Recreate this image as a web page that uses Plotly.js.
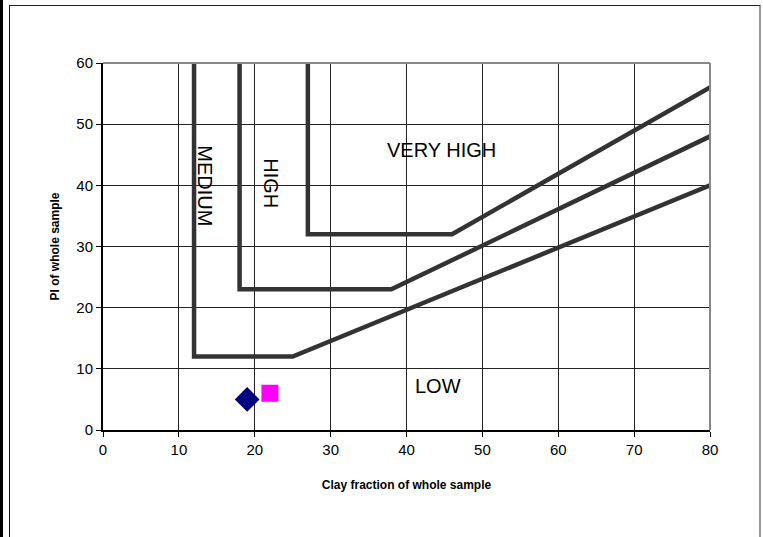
<!DOCTYPE html>
<html>
<head>
<meta charset="utf-8">
<script src="https://cdn.plot.ly/plotly-3.0.1.min.js"></script>
<style>
  html, body { margin: 0; padding: 0; background: #fff; }
  #wrap { position: relative; width: 763px; height: 537px; overflow: hidden; }
  #chart { position: absolute; left: 0; top: 0; width: 763px; height: 537px; }
  #frame { position: absolute; left: 9px; top: 5px; width: 749px; height: 545px;
           border-top: 1px solid #222; border-left: 1px solid #111; border-right: 2px solid #999;
           pointer-events: none; }
  #edge { position: absolute; left: 0; top: 0; width: 3px; height: 537px; background: #000; }
</style>
</head>
<body>
<div id="wrap">
  <div id="chart"></div>
  <div id="frame"></div>
  <div id="edge"></div>
</div>
<script>
// Swelling potential boundaries: clay fraction vs plasticity index
const mediumX = [12, 12, 25, 80];
const mediumY = [60, 12, 12, 40];
const highX = [18, 18, 38, 80];
const highY = [60, 23, 23, 48];
const veryHighX = [27, 27, 46, 80];
const veryHighY = [60, 32, 32, 56];

// Samples
const sampleAX = [19];
const sampleAY = [5];
const sampleBX = [22];
const sampleBY = [6];

// Zone labels
const zoneNames = ["MEDIUM", "HIGH", "VERY HIGH", "LOW"];
const zoneX = [13.4, 22.1, 44.6, 44.2];
const zoneY = [39.9, 40.4, 45.7, 7.2];
const zoneAngle = [90, 90, 0, 0];

const xTicks = [0, 10, 20, 30, 40, 50, 60, 70, 80];
const yTicks = [0, 10, 20, 30, 40, 50, 60];

const boundaryLine = { color: "#333333", width: 4.5 };

const traces = [
  { x: mediumX, y: mediumY, mode: "lines", line: boundaryLine, hoverinfo: "skip" },
  { x: highX, y: highY, mode: "lines", line: boundaryLine, hoverinfo: "skip" },
  { x: veryHighX, y: veryHighY, mode: "lines", line: boundaryLine, hoverinfo: "skip" },
  { x: sampleAX, y: sampleAY, mode: "markers",
    marker: { symbol: "diamond", size: 19, color: "#000080" } },
  { x: sampleBX, y: sampleBY, mode: "markers",
    marker: { symbol: "square", size: 15, color: "#ff00ff",
              line: { color: "#ff00ff", width: 2 } } }
];

const annotations = zoneNames.map((t, i) => ({
  x: zoneX[i], y: zoneY[i], xref: "x", yref: "y", text: t, showarrow: false,
  textangle: zoneAngle[i], font: { family: "Liberation Sans, Arial, sans-serif", size: 20, color: "#000" }
}));

const tickFont = { family: "Liberation Sans, Arial, sans-serif", size: 15, color: "#000" };
const titleFont = { family: "Liberation Sans, Arial, sans-serif", size: 12, color: "#000", weight: "bold" };

const layout = {
  width: 763, height: 537,
  margin: { l: 103, r: 53, t: 63, b: 107 },
  paper_bgcolor: "#fff", plot_bgcolor: "#fff",
  showlegend: false,
  xaxis: {
    range: [0, 80], tickvals: xTicks, ticktext: xTicks.map(String),
    showgrid: true, gridcolor: "#222", gridwidth: 1,
    showline: true, linecolor: "#000", linewidth: 2,
    ticks: "outside", ticklen: 5, tickcolor: "#000",
    zeroline: false, tickfont: tickFont, fixedrange: true,
    title: { text: "Clay fraction of whole sample", font: titleFont, standoff: 24 }
  },
  yaxis: {
    range: [0, 60], tickvals: yTicks, ticktext: yTicks.map(String),
    showgrid: true, gridcolor: "#222", gridwidth: 1,
    showline: true, linecolor: "#000", linewidth: 2,
    ticks: "outside", ticklen: 5, tickcolor: "#000",
    zeroline: false, tickfont: tickFont, fixedrange: true,
    title: { text: "PI of whole sample", font: titleFont, standoff: 14 }
  },
  shapes: [
    { type: "line", xref: "paper", yref: "paper", x0: 0, x1: 1, y0: 1, y1: 1,
      line: { color: "#888", width: 2 } },
    { type: "line", xref: "paper", yref: "paper", x0: 1, x1: 1, y0: 0, y1: 1,
      line: { color: "#888", width: 2 } }
  ],
  annotations: annotations
};

Plotly.newPlot("chart", traces, layout, { displayModeBar: false, staticPlot: true });
</script>
</body>
</html>
